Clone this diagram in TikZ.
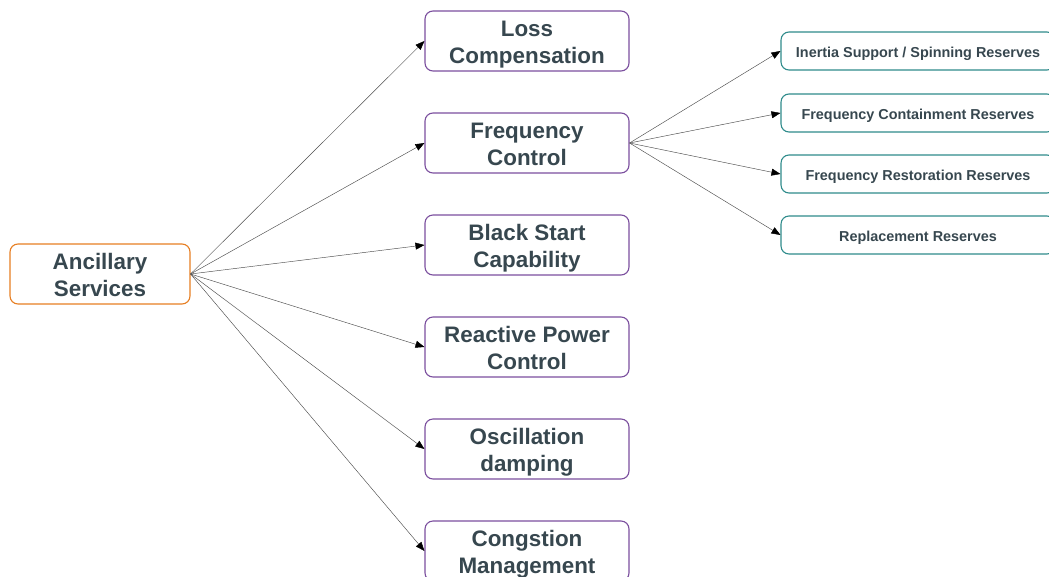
\documentclass[tikz,border=0pt]{standalone}
\usepackage{fontspec}
\setmainfont{Liberation Sans}
\usetikzlibrary{arrows.meta}
\definecolor{txt}{RGB}{55,71,79}
\definecolor{orangeb}{RGB}{230,126,34}
\definecolor{purpleb}{RGB}{123,79,158}
\definecolor{tealb}{RGB}{46,139,139}
\tikzset{
  base/.style={rectangle, rounded corners=8pt, line width=1.1pt, align=center, text=txt, font=\bfseries\fontsize{22.4}{27}\selectfont, inner sep=0pt, text height=49pt, text depth=4pt},
  rootbox/.style={base, draw=orangeb, minimum width=180pt, minimum height=60pt},
  midbox/.style={base, draw=purpleb, minimum width=204pt, minimum height=60pt},
  leafbox/.style={base, draw=tealb, minimum width=274pt, minimum height=38pt, font=\bfseries\fontsize{14.4}{17}\selectfont, text height=15pt, text depth=3pt},
  conn/.style={draw=black!70, line width=0.45pt, -{Triangle[length=9pt,width=7pt,color=black]}}
}
\begin{document}
\begin{tikzpicture}[x=1pt,y=-1pt]
\useasboundingbox (0,0) rectangle (1049,576);
\node[rootbox] (anc) at (100,274) {Ancillary\\Services};
\node[midbox] (loss) at (527,41) {Loss\\Compensation};
\node[midbox] (freq) at (527,143) {Frequency\\Control};
\node[midbox] (black) at (527,245) {Black Start\\Capability};
\node[midbox] (react) at (527,347) {Reactive Power\\Control};
\node[midbox] (osc) at (527,449) {Oscillation\\damping};
\node[midbox] (cong) at (527,551) {Congstion\\Management};
\node[leafbox] (inert) at (918,51) {Inertia Support / Spinning Reserves};
\node[leafbox] (fcr) at (918,113) {Frequency Containment Reserves};
\node[leafbox] (frr) at (918,174) {Frequency Restoration Reserves};
\node[leafbox] (rr) at (918,235) {Replacement Reserves};
\foreach \t in {loss,freq,black,react,osc,cong}
  \draw[conn] (anc.east) -- (\t.west);
\foreach \t in {inert,fcr,frr,rr}
  \draw[conn] (freq.east) -- (\t.west);
\end{tikzpicture}
\end{document}
